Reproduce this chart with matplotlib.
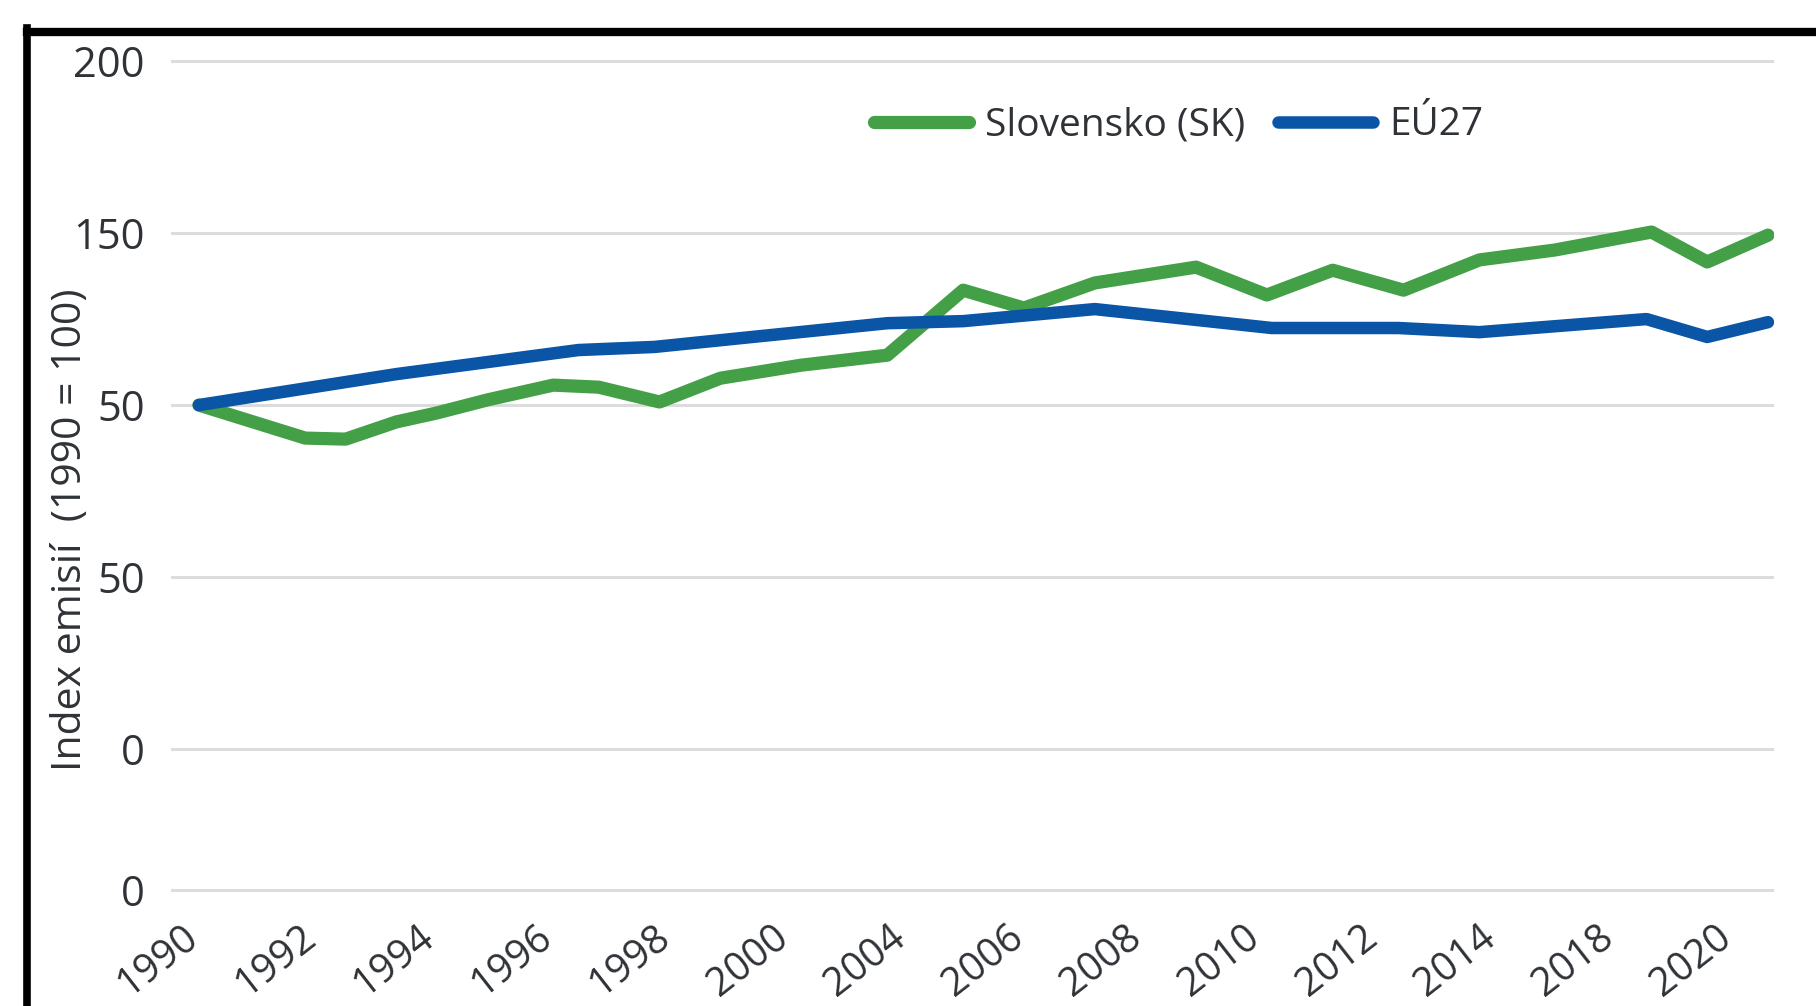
import numpy as np
import matplotlib
matplotlib.use("Agg")
import matplotlib.pyplot as plt
from matplotlib.lines import Line2D

plt.rcParams["font.family"] = ["Open Sans", "DejaVu Sans"]

# Data (x in years, y = emission index, 1990 = 100)
sk_years = [1990.0, 1992.1, 1992.9, 1993.9, 1994.7, 1995.7, 1997.0, 1997.9,
            1999.1, 2000.3, 2001.9, 2003.6, 2005.1, 2006.3, 2007.7, 2009.7,
            2011.1, 2012.4, 2013.8, 2015.3, 2016.8, 2018.7, 2019.8, 2021.0]
sk_index = [100.0, 90.4, 90.1, 95.1, 97.7, 101.5, 105.8, 105.2,
            100.9, 107.8, 111.6, 114.5, 133.4, 128.2, 135.5, 140.1,
            132.0, 139.2, 133.4, 142.2, 145.1, 150.3, 141.6, 149.4]

eu_years = [1990.0, 1993.9, 1997.5, 1999.0, 2003.6, 2005.1, 2007.7,
            2011.2, 2013.7, 2015.3, 2018.6, 2019.8, 2021.0]
eu_index = [100.0, 109.0, 116.0, 116.9, 123.8, 124.4, 127.9,
            122.4, 122.4, 121.2, 125.0, 119.8, 124.1]

x_labels = ["1990", "1992", "1994", "1996", "1998", "2000", "2004",
            "2006", "2008", "2010", "2012", "2014", "2018", "2020"]
y_ticks = [200, 150, 100, 50, 0, -41]
y_labels = ["200", "150", "50", "50", "0", "0"]

green = "#43A047"
blue = "#0B55A6"
text_col = "#2f3337"

fig = plt.figure(figsize=(18.16, 10.06), dpi=100)
fig.patch.set_facecolor("white")
ax = fig.add_axes([0.0942, 0.1118, 0.8827, 0.8309])

ax.plot(sk_years, sk_index, color=green, lw=9.5, solid_capstyle="round",
        solid_joinstyle="round", label="Slovensko (SK)", zorder=3)
ax.plot(eu_years, eu_index, color=blue, lw=9.0, solid_capstyle="round",
        solid_joinstyle="round", label="EÚ27", zorder=4)

ax.set_xlim(1989.45, 2021.12)
ax.set_ylim(-42, 201)

ax.set_yticks(y_ticks)
ax.set_yticklabels(y_labels)
ax.set_xticks(np.linspace(1989.65, 2019.95, len(x_labels)))
ax.set_xticklabels(x_labels, rotation=38, ha="right", va="top",
                   rotation_mode="anchor")

ax.tick_params(axis="y", length=0, pad=19, labelsize=30, labelcolor=text_col)
ax.tick_params(axis="x", length=0, pad=17, labelsize=28.5, labelcolor=text_col)
ax.grid(axis="y", color="#dcdcdc", lw=2.2)
ax.set_axisbelow(True)
for s in ax.spines.values():
    s.set_visible(False)

ax.set_ylabel("Index emisií  (1990 = 100)", fontsize=29.5, color=text_col)
ax.yaxis.set_label_coords(-0.05, 0.435)

ax.legend(loc="center left", bbox_to_anchor=(0.4386, 0.919), ncol=2,
          frameon=False, fontsize=28, handlelength=2.44, handletextpad=0.41,
          columnspacing=0.85, borderpad=0, borderaxespad=0, labelcolor=text_col)

# black frame along top and left edge
fig.add_artist(Line2D([0.0146, 1.0], [1 - 32 / 1006, 1 - 32 / 1006],
                      transform=fig.transFigure, color="black", lw=6))
fig.add_artist(Line2D([26.5 / 1816, 26.5 / 1816], [1 - 28 / 1006, 0.0],
                      transform=fig.transFigure, color="black", lw=5.5))

fig.savefig("out.png", dpi=100, facecolor="white")
